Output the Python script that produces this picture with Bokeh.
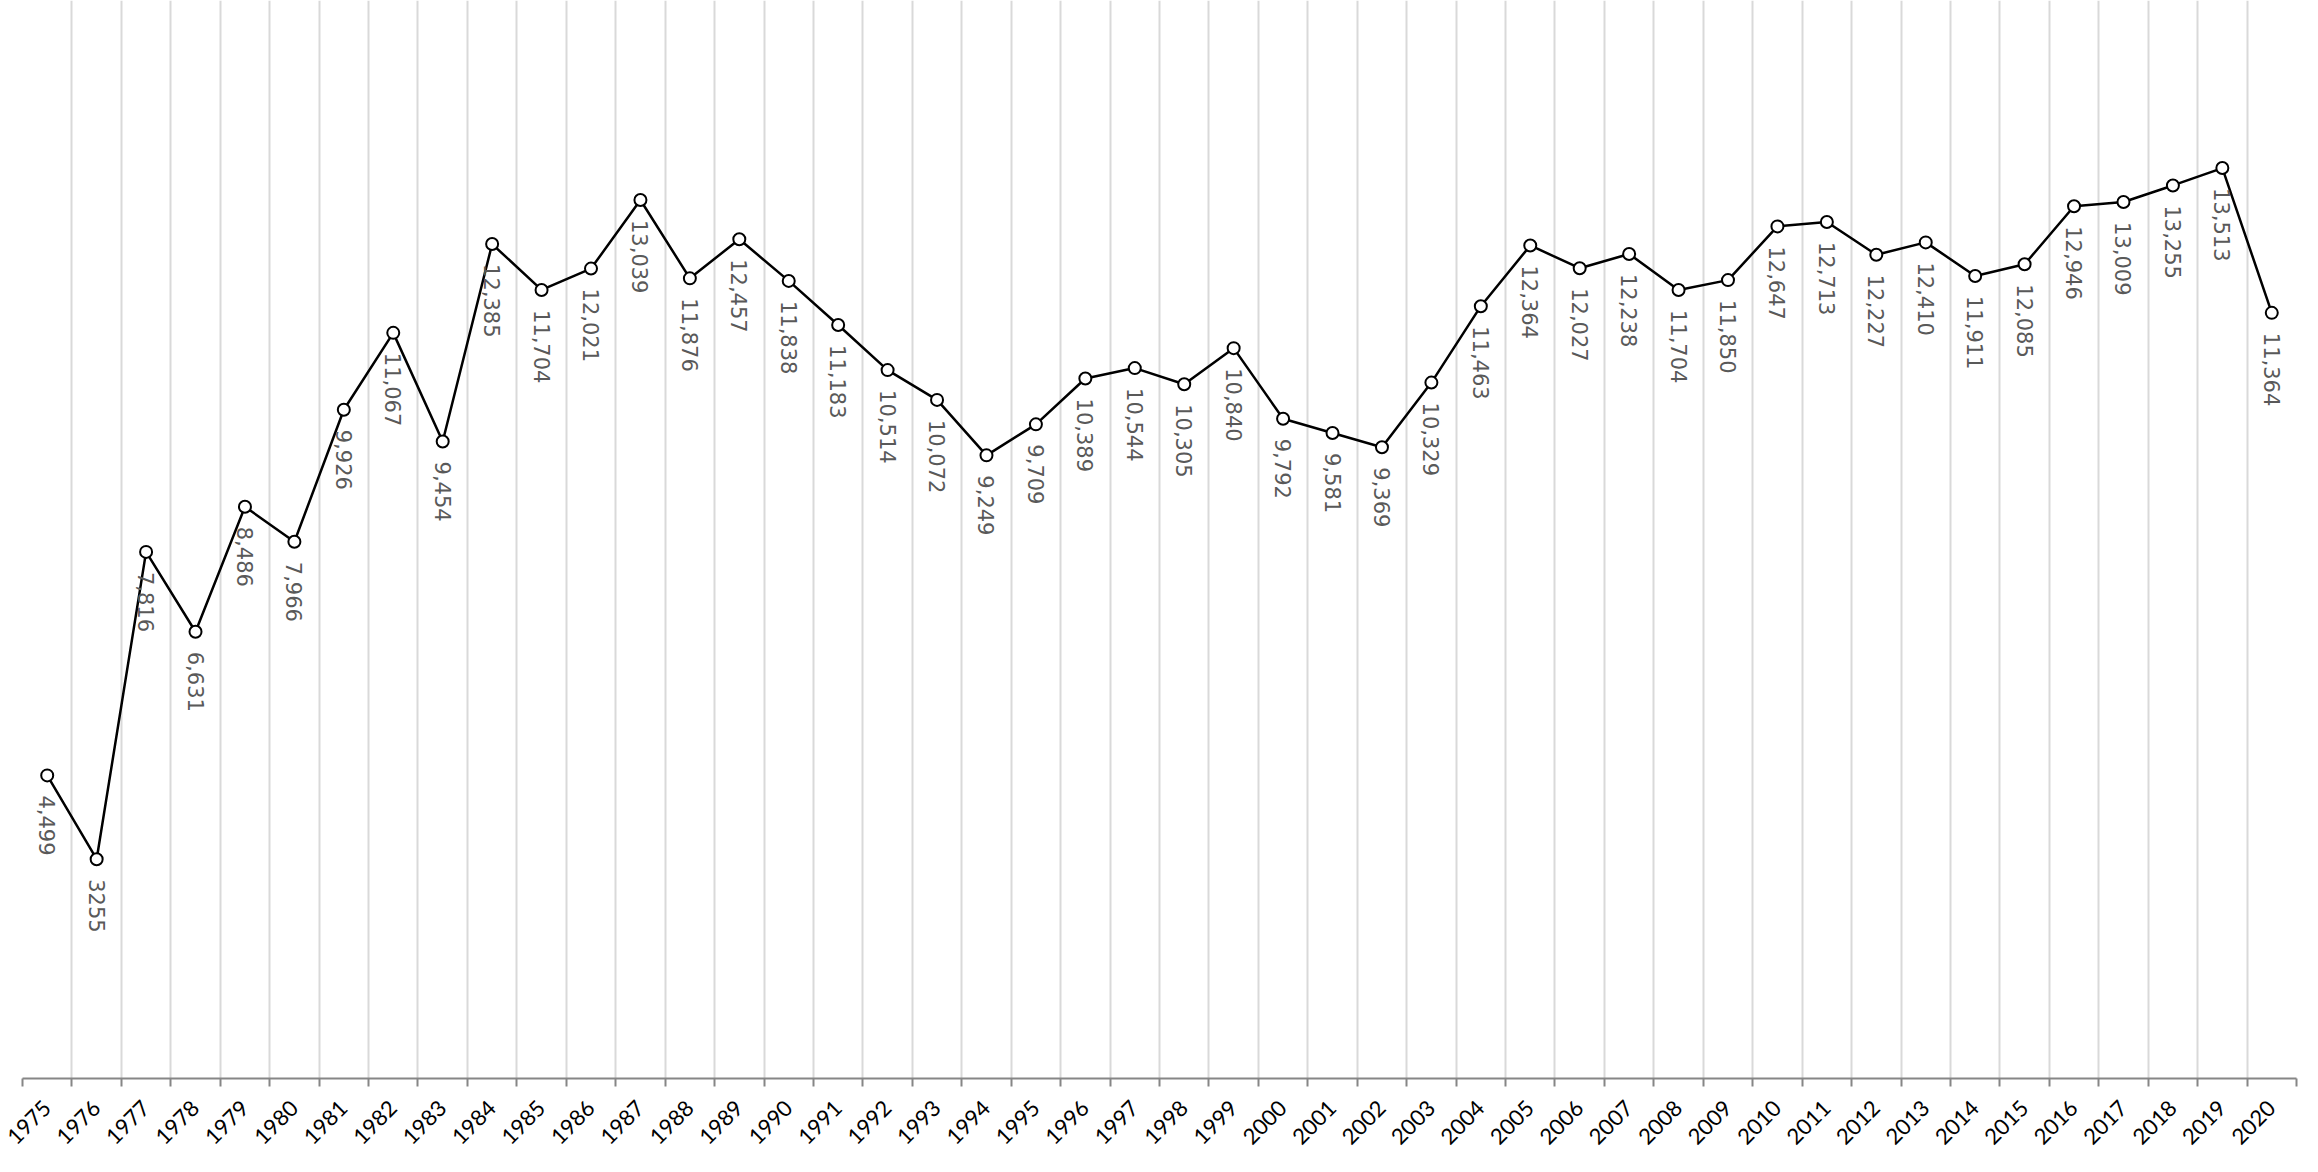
import math
from bokeh.plotting import figure
from bokeh.models import FixedTicker, PrintfTickFormatter, ColumnDataSource, Range1d
from bokeh.core.properties import value
from bokeh.embed import file_html
from bokeh.resources import INLINE

years = list(range(1975, 2021))
values = [4499, 3255, 7816, 6631, 8486, 7966, 9926, 11067, 9454, 12385,
          11704, 12021, 13039, 11876, 12457, 11838, 11183, 10514, 10072, 9249,
          9709, 10389, 10544, 10305, 10840, 9792, 9581, 9369, 10329, 11463,
          12364, 12027, 12238, 11704, 11850, 12647, 12713, 12227, 12410, 11911,
          12085, 12946, 13009, 13255, 13513, 11364]
labels = ["4,499", "3255", "7,816", "6,631", "8,486", "7,966", "9,926", "11,067", "9,454", "12,385",
          "11,704", "12,021", "13,039", "11,876", "12,457", "11,838", "11,183", "10,514", "10,072", "9,249",
          "9,709", "10,389", "10,544", "10,305", "10,840", "9,792", "9,581", "9,369", "10,329", "11,463",
          "12,364", "12,027", "12,238", "11,704", "11,850", "12,647", "12,713", "12,227", "12,410", "11,911",
          "12,085", "12,946", "13,009", "13,255", "13,513", "11,364"]

src = ColumnDataSource(dict(x=years, y=values, label=labels))

boundaries = [y - 0.5 for y in years] + [years[-1] + 0.5]

p = figure(width=2302, height=1156, output_backend="svg", toolbar_location=None,
           x_range=Range1d(years[0] - 0.5, years[-1] + 0.5), y_range=Range1d(0, 16000),
           y_axis_location=None, min_border_left=22, min_border_right=6,
           min_border_top=0, min_border_bottom=78)
p.outline_line_color = None
p.background_fill_color = "white"
p.border_fill_color = "white"

p.ygrid.grid_line_color = None
p.xgrid.ticker = FixedTicker(ticks=boundaries)
p.xgrid.grid_line_color = "#d9d9d9"
p.xgrid.grid_line_width = 2

ax = p.xaxis[0]
ax.ticker = FixedTicker(ticks=years, minor_ticks=boundaries)
ax.formatter = PrintfTickFormatter(format="%d")
ax.major_tick_out = 0
ax.major_tick_in = 0
ax.minor_tick_out = 8
ax.minor_tick_in = 0
ax.minor_tick_line_color = "#868686"
ax.minor_tick_line_width = 2
ax.axis_line_color = "#868686"
ax.axis_line_width = 2
ax.major_label_orientation = math.pi / 4
ax.major_label_text_font = "Lato"
ax.major_label_text_font_size = "22px"
ax.major_label_text_color = "#000000"
ax.major_label_standoff = 18

p.line("x", "y", source=src, line_color="black", line_width=2.5)
p.scatter("x", "y", source=src, size=12, fill_color="white", line_color="black", line_width=2)
p.text("x", "y", text="label", source=src, angle=-math.pi / 2,
       text_align="left", text_baseline="middle", y_offset=20,
       text_font=value("DejaVu Sans"), text_font_size="21px", text_color="#595959")

open("out.html", "w").write(file_html(p, INLINE))
